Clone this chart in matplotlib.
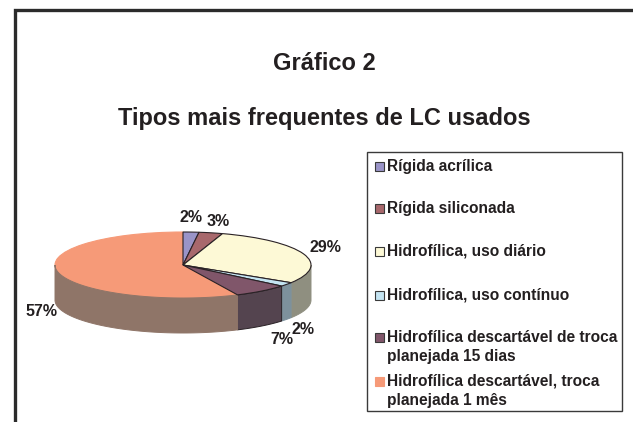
import numpy as np
import matplotlib
matplotlib.use("Agg")
import matplotlib.pyplot as plt
from matplotlib.patches import Rectangle

plt.rcParams['font.family'] = ['Liberation Sans', 'DejaVu Sans']

# Data
categories = ["Rígida acrílica", "Rígida siliconada", "Hidrofílica, uso diário",
              "Hidrofílica, uso contínuo",
              "Hidrofílica descartável de troca\nplanejada 15 dias",
              "Hidrofílica descartável, troca\nplanejada 1 mês"]
values = [2, 3, 29, 2, 7, 57]
top_colors = ["#9a94c8", "#a8686c", "#fdf9d6", "#c4e4f2", "#80566a", "#f69a78"]
side_colors = ["#6e6a90", "#7a4c4e", "#8f8f80", "#7d919c", "#54444f", "#8f7568"]
legend_rows = [166, 208, 251, 295, 337, 381]
label_pos = [(191, 218), (218, 221), (325, 248), (303, 329), (282, 339), (42, 312)]

W, H = 633, 422
fig = plt.figure(figsize=(W / 100, H / 100), dpi=100, facecolor="white")

# overlay in pixel coordinates for frame, titles, legend
page = fig.add_axes([0, 0, 1, 1])
page.set_xlim(0, W)
page.set_ylim(H, 0)
page.axis("off")

page.plot([14.5, 14.5, W], [H, 10, 10], color="#2b2b2b", lw=2.4, solid_joinstyle="miter")
page.text(324, 63.5, "Gráfico 2", ha="center", va="center", fontsize=17, fontweight="bold", color="#231f20")
page.text(324, 118.5, "Tipos mais frequentes de LC usados", ha="center", va="center",
          fontsize=17, fontweight="bold", color="#231f20")

# pie axes: unit circle is 128 px wide and 33 px high, centred at (183, 265)
cx, cy, rx, ry = 183, 265, 128, 33
y_low, y_high = -2.4, 1.1
pie_ax = fig.add_axes([(cx - rx * 1.05) / W, 1 - (cy - y_low * ry) / H,
                       rx * 2.1 / W, (y_high - y_low) * ry / H], zorder=2)
pie_ax.patch.set_alpha(0)
depth = 35 / ry

edges = np.cumsum([0] + values) / sum(values) * 2 * np.pi
# side wall, only the front half of the disc shows
for i in range(len(values)):
    a0 = max(edges[i], np.pi / 2)
    a1 = min(edges[i + 1], 3 * np.pi / 2)
    if a1 <= a0:
        continue
    t = np.linspace(a0, a1, 80)
    x, y = np.sin(t), np.cos(t)
    pie_ax.fill(np.r_[x, x[::-1]], np.r_[y, y[::-1] - depth], fc=side_colors[i],
                ec="#2a2226" if i == 4 else side_colors[i], lw=0.7)

wedges, _ = pie_ax.pie(values, colors=top_colors, startangle=90, counterclock=False, radius=1,
                       wedgeprops={"edgecolor": "#2a2226", "linewidth": 0.8})
# the big slice has no dark rim, its neighbours draw the shared lines
wedges[-1].set_edgecolor(top_colors[-1])
wedges[-1].set_zorder(wedges[0].get_zorder() - 0.5)
pie_ax.set_aspect("auto")
pie_ax.set_xlim(-1.05, 1.05)
pie_ax.set_ylim(y_low, y_high)
pie_ax.axis("off")

for v, (lx, ly) in zip(values, label_pos):
    page.text(lx, ly, f"{v}%", ha="center", va="center", fontsize=11.5, fontweight="bold",
              color="#231f20", zorder=5)

# legend box
page.add_patch(Rectangle((367, 152), 255, 259, fc="white", ec="#3a3a3a", lw=1.0))
for name, col, row in zip(categories, top_colors, legend_rows):
    page.add_patch(Rectangle((374.5, row - 4.5), 9, 9, fc=col,
                             ec="#3a3a3a" if col != top_colors[5] else col, lw=0.8))
    lines = name.split("\n")
    page.text(387, row, lines[0], va="center", fontsize=11.2, fontweight="bold", color="#231f20")
    if len(lines) > 1:
        page.text(387, row + 19.5, lines[1], va="center", fontsize=11.2, fontweight="bold", color="#231f20")

fig.savefig("out.png", dpi=100)
